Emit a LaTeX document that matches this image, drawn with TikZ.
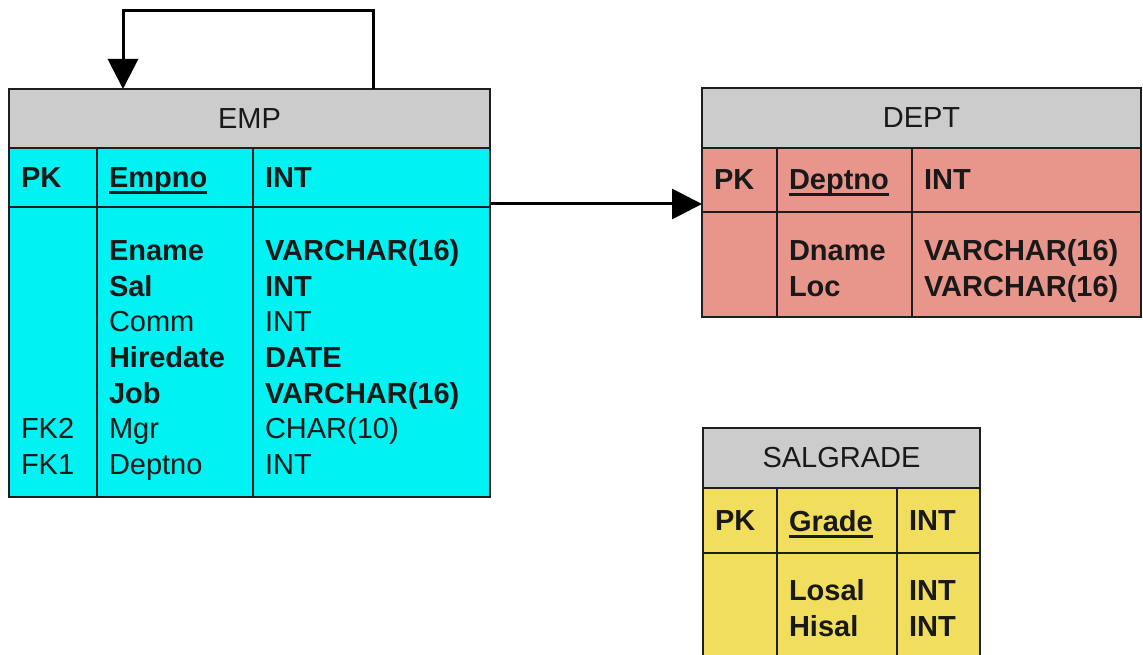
\documentclass[tikz,border=0pt]{standalone}
\usepackage{fontspec}
\setmainfont{Liberation Sans}
\usetikzlibrary{arrows.meta,positioning}

\definecolor{hdrgray}{RGB}{204,204,204}
\definecolor{empcyan}{RGB}{0,242,242}
\definecolor{deptred}{RGB}{232,150,140}
\definecolor{salyellow}{RGB}{240,222,92}
\definecolor{celledge}{RGB}{30,30,30}

\newsavebox{\pkbox}
\newcommand{\pkfield}[1]{\sbox{\pkbox}{#1}\rlap{\rule[-6.5pt]{\wd\pkbox}{3pt}}\usebox{\pkbox}}

\begin{document}
\begin{tikzpicture}[
    x=1pt, y=-1pt,
    font=\fontsize{29}{35.7}\selectfont,
    text=black!90,
    tbl/.style={draw=celledge, line width=2pt, outer sep=0pt, anchor=north west, inner xsep=12pt, inner ysep=0pt},
    head/.style={tbl, fill=hdrgray, align=center},
    keyrow/.style={tbl, align=left, font=\fontsize{29}{35.7}\selectfont\bfseries, text depth=0pt},
    bodyrow/.style={tbl, align=left},
    link/.style={-{Triangle[length=30pt,width=30pt]}, line width=3pt}
]
    \useasboundingbox (0,0) rectangle (1143,655);
    \clip (0,0) rectangle (1143,655);

    % EMP
    \node[head, minimum width=481pt, minimum height=59pt] (emphd) at (9,89) {EMP};
    \node[keyrow, fill=empcyan, text width=64pt, minimum height=59pt] (empk1) at (emphd.south west) {PK};
    \node[keyrow, fill=empcyan, text width=132pt, minimum height=59pt] (empk2) at (empk1.north east) {\pkfield{Empno}};
    \node[keyrow, fill=empcyan, text width=213pt, minimum height=59pt] (empk3) at (empk2.north east) {INT};
    \node[bodyrow, fill=empcyan, text width=64pt, minimum height=290pt, text height=31pt, text depth=214.2pt] (empb1) at (empk1.south west)
        {\mbox{}\\\mbox{}\\\mbox{}\\\mbox{}\\\mbox{}\\FK2\\FK1};
    \node[bodyrow, fill=empcyan, text width=132pt, minimum height=290pt, text height=31pt, text depth=214.2pt] (empb2) at (empb1.north east)
        {\textbf{Ename}\\\textbf{Sal}\\Comm\\\textbf{Hiredate}\\\textbf{Job}\\Mgr\\Deptno};
    \node[bodyrow, fill=empcyan, text width=213pt, minimum height=290pt, text height=31pt, text depth=214.2pt] (empb3) at (empb2.north east)
        {\textbf{VARCHAR(16)}\\\textbf{INT}\\INT\\\textbf{DATE}\\\textbf{VARCHAR(16)}\\CHAR(10)\\INT};

    % DEPT
    \node[head, minimum width=439pt, minimum height=60pt] (depthd) at (702,88) {DEPT};
    \node[keyrow, fill=deptred, text width=51pt, minimum height=64pt] (deptk1) at (depthd.south west) {PK};
    \node[keyrow, fill=deptred, text width=111pt, minimum height=64pt] (deptk2) at (deptk1.north east) {\pkfield{Deptno}};
    \node[keyrow, fill=deptred, text width=205pt, minimum height=64pt] (deptk3) at (deptk2.north east) {INT};
    \node[bodyrow, fill=deptred, text width=51pt, minimum height=105pt, text height=27.5pt, text depth=35.7pt] (deptb1) at (deptk1.south west)
        {\mbox{}\\\mbox{}};
    \node[bodyrow, fill=deptred, text width=111pt, minimum height=105pt, text height=27.5pt, text depth=35.7pt] (deptb2) at (deptb1.north east)
        {\textbf{Dname}\\\textbf{Loc}};
    \node[bodyrow, fill=deptred, text width=205pt, minimum height=105pt, text height=27.5pt, text depth=35.7pt] (deptb3) at (deptb2.north east)
        {\textbf{VARCHAR(16)}\\\textbf{VARCHAR(16)}};

    % SALGRADE
    \node[head, minimum width=277pt, minimum height=60pt] (salhd) at (703,428) {SALGRADE};
    \node[keyrow, fill=salyellow, text width=50pt, minimum height=65pt] (salk1) at (salhd.south west) {PK};
    \node[keyrow, fill=salyellow, text width=96pt, minimum height=65pt] (salk2) at (salk1.north east) {\pkfield{Grade}};
    \node[keyrow, fill=salyellow, text width=59pt, minimum height=65pt] (salk3) at (salk2.north east) {INT};
    \node[bodyrow, fill=salyellow, text width=50pt, minimum height=112pt, text height=18.5pt, text depth=35.7pt] (salb1) at (salk1.south west)
        {\mbox{}\\\mbox{}};
    \node[bodyrow, fill=salyellow, text width=96pt, minimum height=112pt, text height=18.5pt, text depth=35.7pt] (salb2) at (salb1.north east)
        {\textbf{Losal}\\\textbf{Hisal}};
    \node[bodyrow, fill=salyellow, text width=59pt, minimum height=112pt, text height=18.5pt, text depth=35.7pt] (salb3) at (salb2.north east)
        {\textbf{INT}\\\textbf{INT}};

    % relationships
    \draw[link] ([xshift=364pt]emphd.north west) -- ++(0,-78) -| ([xshift=114pt]emphd.north west);
    \draw[link] ([yshift=3pt]empk3.south east) -- ([yshift=3pt]empk3.south east -| deptk1.west);
\end{tikzpicture}
\end{document}
